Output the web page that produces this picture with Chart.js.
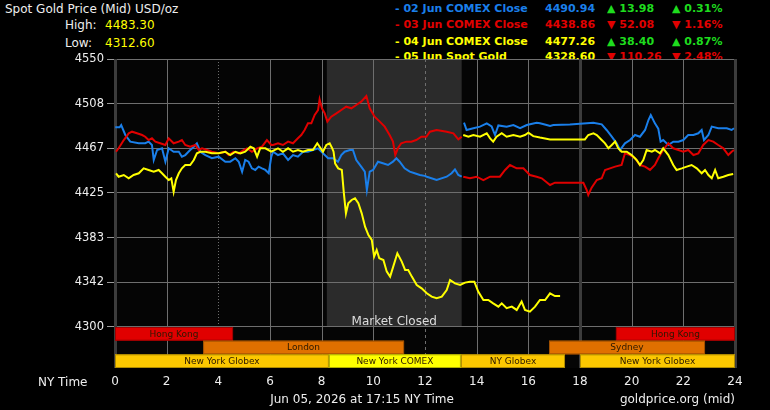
<!DOCTYPE html>
<html><head><meta charset="utf-8">
<script src="https://cdn.jsdelivr.net/npm/chart.js@4.4.1/dist/chart.umd.min.js"></script>
<style>
html,body{margin:0;padding:0;background:#000;width:770px;height:410px;overflow:hidden;}
#wrap{position:relative;width:770px;height:410px;}
canvas{position:absolute;left:0;top:0;z-index:2;}
.t{position:absolute;white-space:nowrap;font-family:"DejaVu Sans",sans-serif;line-height:14px;z-index:1;color:#eee;font-size:12px;}
.b{font-weight:bold;font-size:11px;}
.over{z-index:3;}
</style></head>
<body><div id="wrap"><canvas id="c" width="770" height="410"></canvas></div>
<script>
// ---- data ----
const hourTicks = [0,2,4,6,8,10,12,14,16,18,20,22,24];
const priceTicks = [4300,4341.67,4383.33,4425,4466.67,4508.33,4550];
const priceTickLabels = ['4300','4342','4383','4425','4467','4508','4550'];

const blueHoursA = [0.01,0.18,0.24,0.40,0.59,0.92,1.17,1.30,1.43,1.50,1.63,1.82,1.95,2.08,2.27,2.47,2.59,2.72,2.91,3.05,3.17,3.30,3.50,3.75,4.01,4.27,4.46,4.66,4.79,4.92,5.04,5.17,5.30,5.43,5.56,5.69,5.82,5.95,6.05,6.12,6.31,6.50,6.70,6.89,7.08,7.28,7.47,7.66,7.86,8.05,8.25,8.44,8.63,8.76,8.89,9.09,9.21,9.34,9.53,9.67,9.75,9.86,9.99,10.18,10.37,10.57,10.76,10.89,11.02,11.21,11.41,11.60,11.80,11.99,12.07,12.45,12.84,13.03,13.16,13.29,13.42];
const bluePricesA = [4486.3,4486.3,4488.4,4479.1,4472.9,4471.4,4471.4,4472.9,4469.8,4455.8,4465.1,4466.7,4454.2,4466.7,4463.5,4463.5,4458.9,4460.4,4465.1,4468.2,4471.4,4463.5,4460.4,4457.4,4458.9,4454.2,4454.2,4457.4,4454.2,4444.9,4455.8,4454.2,4448.0,4446.5,4449.6,4448.0,4446.5,4443.4,4458.9,4463.5,4460.4,4462.0,4455.8,4460.4,4458.9,4463.5,4463.5,4465.1,4466.7,4462.0,4457.4,4457.4,4454.2,4460.4,4463.5,4465.1,4465.1,4455.8,4449.6,4444.9,4427.8,4444.9,4446.5,4454.2,4452.7,4451.1,4454.2,4457.4,4454.2,4448.0,4444.9,4443.4,4441.8,4441.0,4440.2,4437.1,4440.2,4443.4,4447.0,4441.8,4440.2];
const blueHoursB = [13.51,13.61,13.87,14.13,14.39,14.58,14.71,14.84,15.16,15.42,15.68,15.94,16.32,16.45,16.71,16.84,16.97,17.61,18.13,18.52,18.84,19.03,19.23,19.42,19.55,19.74,19.94,20.13,20.32,20.52,20.65,20.74,20.90,21.03,21.12,21.22,21.42,21.61,21.81,22.00,22.19,22.39,22.58,22.71,22.80,22.97,23.10,23.35,23.68,23.87,23.96];
const bluePricesB = [4490.6,4483.8,4485.4,4486.9,4490.0,4487.0,4479.1,4488.0,4486.9,4488.4,4485.4,4488.4,4490.6,4490.0,4488.5,4487.5,4488.5,4489.0,4489.8,4490.6,4489.0,4483.8,4477.5,4471.3,4465.1,4471.3,4474.4,4479.1,4477.5,4483.8,4493.1,4497.8,4490.0,4485.0,4472.9,4474.4,4469.8,4472.9,4472.9,4474.4,4479.1,4479.1,4480.7,4483.8,4474.4,4479.1,4486.9,4485.4,4485.4,4483.8,4485.4];

const redHoursA = [0.04,0.14,0.34,0.53,0.66,0.85,1.05,1.17,1.30,1.43,1.56,1.75,1.95,2.08,2.27,2.47,2.59,2.72,2.91,3.11,3.24,3.37,3.56,3.75,4.01,4.27,4.40,4.59,4.79,4.98,5.11,5.30,5.50,5.69,5.88,6.05,6.12,6.31,6.50,6.70,6.89,7.08,7.21,7.34,7.47,7.60,7.73,7.86,7.92,8.01,8.12,8.22,8.37,8.57,8.76,8.95,9.15,9.34,9.53,9.73,9.86,10.05,10.25,10.44,10.63,10.76,10.85,10.95,11.08,11.28,11.47,11.66,11.86,12.05,12.19,12.45,12.84,13.10,13.29,13.42];
const redPricesA = [4463.5,4466.7,4474.4,4480.7,4482.2,4480.7,4479.1,4477.5,4474.4,4476.0,4472.9,4471.4,4469.8,4476.0,4471.4,4472.9,4474.4,4469.8,4468.2,4469.8,4465.1,4466.7,4465.1,4463.5,4462.0,4463.5,4460.4,4463.5,4462.0,4465.1,4466.7,4463.5,4466.7,4468.2,4474.4,4469.8,4469.8,4471.4,4469.8,4472.9,4471.4,4476.0,4479.1,4483.8,4490.0,4490.0,4497.8,4502.4,4512.4,4504.0,4499.3,4491.6,4496.2,4499.3,4502.4,4505.5,4504.0,4507.1,4510.2,4515.5,4504.0,4496.2,4491.6,4486.9,4479.1,4472.9,4460.4,4466.7,4471.4,4472.9,4472.9,4474.4,4477.5,4477.5,4482.2,4483.8,4482.2,4480.7,4475.0,4477.5];
const redHoursB = [13.48,13.74,14.00,14.26,14.52,14.90,15.10,15.29,15.55,15.81,16.06,16.32,16.52,16.84,17.03,17.61,18.13,18.26,18.32,18.45,18.65,18.84,18.97,19.16,19.36,19.61,19.74,19.94,20.13,20.32,20.52,20.71,20.90,21.03,21.22,21.42,21.61,21.81,22.00,22.19,22.39,22.58,22.77,22.97,23.16,23.35,23.55,23.74,23.87,23.96];
const redPricesB = [4440.2,4438.7,4440.2,4437.1,4440.2,4440.2,4446.5,4451.1,4448.0,4448.0,4441.8,4440.2,4438.7,4432.5,4434.6,4434.6,4434.6,4427.8,4423.1,4430.0,4437.1,4438.7,4446.5,4448.0,4449.6,4451.1,4462.0,4460.4,4457.4,4451.1,4449.6,4446.5,4451.1,4457.4,4465.1,4471.4,4466.7,4465.1,4463.5,4465.1,4460.4,4462.0,4469.8,4474.4,4472.9,4469.8,4466.7,4460.4,4463.5,4465.1];

const yellowJun4Hours = [13.48,13.68,13.87,14.13,14.39,14.52,14.64,14.77,14.97,15.16,15.42,15.68,15.87,16.00,16.19,16.45,16.84,17.61,18.19,18.32,18.52,18.65,18.84,18.97,19.10,19.23,19.36,19.48,19.61,19.81,20.00,20.19,20.32,20.45,20.58,20.78,20.90,21.10,21.22,21.42,21.61,21.74,21.94,22.13,22.32,22.52,22.71,22.84,22.97,23.10,23.23,23.35,23.55,23.74,23.93];
const yellowJun4Prices = [4479.1,4477.5,4479.1,4477.5,4480.7,4476.0,4472.9,4477.5,4480.7,4477.5,4479.1,4477.5,4479.1,4481.2,4478.0,4476.7,4475.0,4475.0,4475.0,4479.1,4480.7,4479.1,4474.4,4471.3,4466.7,4469.8,4473.0,4466.7,4463.5,4463.5,4460.4,4455.8,4451.1,4455.8,4465.1,4463.5,4465.1,4462.0,4466.7,4460.4,4451.1,4446.5,4448.0,4449.6,4451.1,4448.0,4443.4,4446.5,4441.8,4438.7,4446.5,4438.7,4440.2,4441.8,4442.7];

const spotHours = [0.04,0.14,0.34,0.53,0.72,0.92,1.11,1.30,1.50,1.69,1.82,1.95,2.08,2.18,2.27,2.36,2.47,2.59,2.72,2.91,3.05,3.17,3.30,3.50,3.75,4.01,4.27,4.46,4.66,4.85,5.04,5.24,5.37,5.50,5.62,5.82,6.05,6.31,6.50,6.70,6.89,7.08,7.28,7.47,7.66,7.83,7.92,8.05,8.18,8.31,8.41,8.46,8.52,8.64,8.78,8.86,8.94,9.03,9.16,9.29,9.42,9.55,9.68,9.81,9.94,10.03,10.13,10.23,10.39,10.52,10.65,10.77,10.93,11.10,11.23,11.35,11.49,11.68,11.87,12.07,12.26,12.45,12.65,12.84,12.97,13.16,13.36,13.55,13.74,13.91,14.06,14.26,14.45,14.64,14.84,14.97,15.16,15.36,15.55,15.74,15.87,16.06,16.26,16.45,16.65,16.84,17.03,17.23];
const spotPrices = [4443.4,4440.2,4441.8,4438.7,4441.8,4443.4,4448.0,4446.5,4444.9,4446.5,4443.4,4440.2,4437.1,4438.7,4426.2,4437.1,4443.4,4448.0,4451.1,4451.1,4455.8,4462.0,4463.5,4463.5,4462.0,4462.0,4463.5,4460.4,4463.5,4462.0,4463.5,4468.2,4466.7,4458.9,4466.7,4466.7,4463.5,4466.7,4463.5,4466.7,4463.5,4465.1,4463.5,4465.1,4465.1,4471.4,4468.2,4463.5,4469.8,4471.4,4466.7,4463.5,4452.6,4448.0,4446.5,4424.7,4406.0,4415.4,4418.5,4420.0,4415.4,4406.0,4393.6,4385.8,4381.2,4365.6,4371.8,4364.1,4362.5,4351.6,4347.0,4356.3,4368.8,4361.0,4353.2,4353.2,4347.0,4339.2,4336.1,4331.4,4328.3,4326.8,4328.3,4334.5,4343.8,4340.7,4339.2,4341.4,4342.3,4342.3,4333.0,4325.2,4325.2,4322.1,4319.0,4322.1,4317.5,4319.0,4315.9,4323.7,4315.9,4314.3,4319.0,4325.2,4325.2,4331.4,4328.9,4328.9];

const legendNames = ['02 Jun COMEX Close','03 Jun COMEX Close','04 Jun COMEX Close','05 Jun Spot Gold'];
const legendPrices = ['4490.94','4438.86','4477.26','4328.60'];
const legendChanges = [13.98,-52.08,38.40,-110.26];
const legendPercents = [0.31,-1.16,0.87,-2.48];
const highValue = '4483.30';
const lowValue = '4312.60';

const sessionNames = ['Hong Kong','Hong Kong','London','Sydney','New York Globex','New York COMEX','NY Globex','New York Globex'];
const sessionStarts = [0,19.39,3.41,16.8,0,8.28,13.39,18];
const sessionEnds = [4.57,24,11.19,22.84,8.28,13.39,17.42,24];
const sessionRows = [0,0,1,1,2,2,2,2];
const closedStart = 8.2, closedEnd = 13.42;

// ---- styles ----
const FONT = '"DejaVu Sans", sans-serif';
const BLUE = '#1a7fea', RED = '#e00000', YELLOW = '#ffff00', GREEN = '#1edc1e';
const GRID = '#6e6e6e', GRID_DARK = '#3c3c3c';
const legendColors = [BLUE, RED, YELLOW, YELLOW];
const sessionColor = {'Hong Kong':['#e00000','#a00000'],'London':['#e07000','#a05000'],'Sydney':['#e07000','#a05000'],
  'New York Globex':['#fcc800','#b08c00'],'NY Globex':['#fcc800','#b08c00'],'New York COMEX':['#ffff00','#b0b000']};

function pts(h, p){ return h.map((v,i)=>({x:v,y:p[i]})); }
function joinGap(a, b){ return a.concat([{x:(a[a.length-1].x+b[0].x)/2, y:null}], b); }

// ---- HTML text ----
const wrap = document.getElementById('wrap');
function txt(s, left, cy, cls, color, align){
  const d = document.createElement('div'); d.className = 't ' + (cls||''); d.textContent = s;
  d.style.top = (cy - 7) + 'px';
  if (align === 'right') d.style.right = (770 - left) + 'px';
  else if (align === 'center') { d.style.left = left + 'px'; d.style.transform = 'translateX(-50%)'; }
  else d.style.left = left + 'px';
  if (color) d.style.color = color;
  wrap.appendChild(d); return d;
}
txt('Spot Gold Price (Mid) USD/oz', 5, 8.5, '', '#eee');
txt('High:', 65, 24.5, '', '#eee');
txt(highValue, 105, 24.5, '', YELLOW);
txt('Low:', 65, 42.5, '', '#eee');
txt(lowValue, 105, 42.5, '', YELLOW);
const rowY = [9, 25, 41.5, 57];
legendNames.forEach((n,i)=>{
  txt('- ' + n, 395, rowY[i], 'b', legendColors[i]);
  txt(legendPrices[i], 545, rowY[i], 'b', legendColors[i]);
  const up = legendChanges[i] >= 0;
  txt((up?'▲ ':'▼ ') + Math.abs(legendChanges[i]).toFixed(2), 607, rowY[i], 'b', up?GREEN:RED);
  txt((up?'▲ ':'▼ ') + Math.abs(legendPercents[i]).toFixed(2) + '%', 672, rowY[i], 'b', up?GREEN:RED);
});
txt('NY Time', 38, 382, 'over', '#eee');
txt('Jun 05, 2026 at 17:15 NY Time', 362, 399, 'over', '#eee', 'center');
txt('goldprice.org (mid)', 735, 399, 'over', '#eee', 'right');

// ---- plugin ----
const deco = {
  id:'deco',
  beforeDraw(c){
    const {ctx, chartArea:a, scales:{x,y}} = c;
    ctx.save();
    ctx.fillStyle = '#050505';
    ctx.fillRect(a.left, a.top, a.right-a.left, a.bottom-a.top);
    const x0 = x.getPixelForValue(closedStart), x1 = x.getPixelForValue(closedEnd);
    const yt = y.getPixelForValue(4550), yb = y.getPixelForValue(4300);
    ctx.fillStyle = '#2b2b2b';
    ctx.fillRect(x0, yt, x1-x0, yb-yt);
    ctx.restore();
  },
  beforeDatasetsDraw(c){
    const {ctx, chartArea:a, scales:{x,y}} = c;
    ctx.save();
    hourTicks.forEach(v=>{
      const px = Math.round(x.getPixelForValue(v)) + 0.5;
      ctx.beginPath();
      if (v===0 || v===18 || v===24){ ctx.strokeStyle=GRID_DARK; ctx.lineWidth=3; ctx.setLineDash([]); }
      else if (v===4){ ctx.strokeStyle=GRID; ctx.lineWidth=1; ctx.setLineDash([1,2]); }
      else if (v===12){ ctx.strokeStyle=GRID; ctx.lineWidth=1; ctx.setLineDash([3,3]); }
      else { ctx.strokeStyle=GRID; ctx.lineWidth=1; ctx.setLineDash([]); }
      ctx.moveTo(px, a.top); ctx.lineTo(px, a.bottom); ctx.stroke();
    });
    ctx.setLineDash([]);
    // Market closed label
    const mx = (x.getPixelForValue(closedStart) + x.getPixelForValue(closedEnd))/2;
    const yb = y.getPixelForValue(4300);
    ctx.fillStyle = '#dddddd'; ctx.font = '12px ' + FONT; ctx.textAlign='center'; ctx.textBaseline='alphabetic';
    ctx.fillText('Market Closed', mx, yb - 2);
    // sessions
    const rowH = (a.bottom - yb)/3;
    ctx.font = '9px ' + FONT; ctx.textBaseline='middle';
    sessionNames.forEach((n,i)=>{
      const sx = x.getPixelForValue(sessionStarts[i]), ex = x.getPixelForValue(sessionEnds[i]);
      const sy = yb + sessionRows[i]*rowH;
      const col = sessionColor[n];
      ctx.fillStyle = col[0]; ctx.fillRect(sx, sy, ex-sx, rowH);
      ctx.strokeStyle = col[1]; ctx.lineWidth = 1; ctx.strokeRect(sx+0.5, sy+0.5, ex-sx-1, rowH-1);
      ctx.fillStyle = '#2a1800'; ctx.fillText(n, (sx+ex)/2, sy + rowH/2 + 0.5);
    });
    ctx.restore();
  }
};

Chart.defaults.font.family = FONT;
new Chart(document.getElementById('c'), {
  type:'line',
  data:{datasets:[
    {label:'05 Jun Spot Gold', data:pts(spotHours, spotPrices), borderColor:YELLOW, order:0},
    {label:'04 Jun COMEX Close', data:pts(yellowJun4Hours, yellowJun4Prices), borderColor:YELLOW, order:1},
    {label:'03 Jun COMEX Close', data:joinGap(pts(redHoursA, redPricesA), pts(redHoursB, redPricesB)), borderColor:RED, order:2},
    {label:'02 Jun COMEX Close', data:joinGap(pts(blueHoursA, bluePricesA), pts(blueHoursB, bluePricesB)), borderColor:BLUE, order:3}
  ]},
  options:{
    responsive:false, animation:false, parsing:false,
    layout:{padding:{left:0,right:35,top:59,bottom:17}},
    plugins:{legend:{display:false}, tooltip:{enabled:false}},
    elements:{point:{radius:0}, line:{borderWidth:2, tension:0}},
    scales:{
      x:{type:'linear', min:0, max:24,
        afterBuildTicks(s){ s.ticks = hourTicks.map(v=>({value:v})); },
        afterFit(s){ s.height = 25; },
        grid:{drawOnChartArea:false, drawTicks:false},
        border:{display:false},
        ticks:{color:'#eee', font:{size:12}, padding:7, maxRotation:0, autoSkip:false, callback:(v)=>String(v)}},
      y:{type:'linear', min:4261.75, max:4550,
        afterBuildTicks(s){ s.ticks = priceTicks.map(v=>({value:v})); },
        afterFit(s){ s.width = 115; },
        grid:{color:GRID, lineWidth:1, tickLength:8, tickColor:'#9a9a9a', tickWidth:1},
        border:{display:false},
        ticks:{color:'#eee', font:{size:11.5}, padding:3, autoSkip:false, callback:(v,i)=>priceTickLabels[i]}}
    }
  },
  plugins:[deco]
});
</script></body></html>
